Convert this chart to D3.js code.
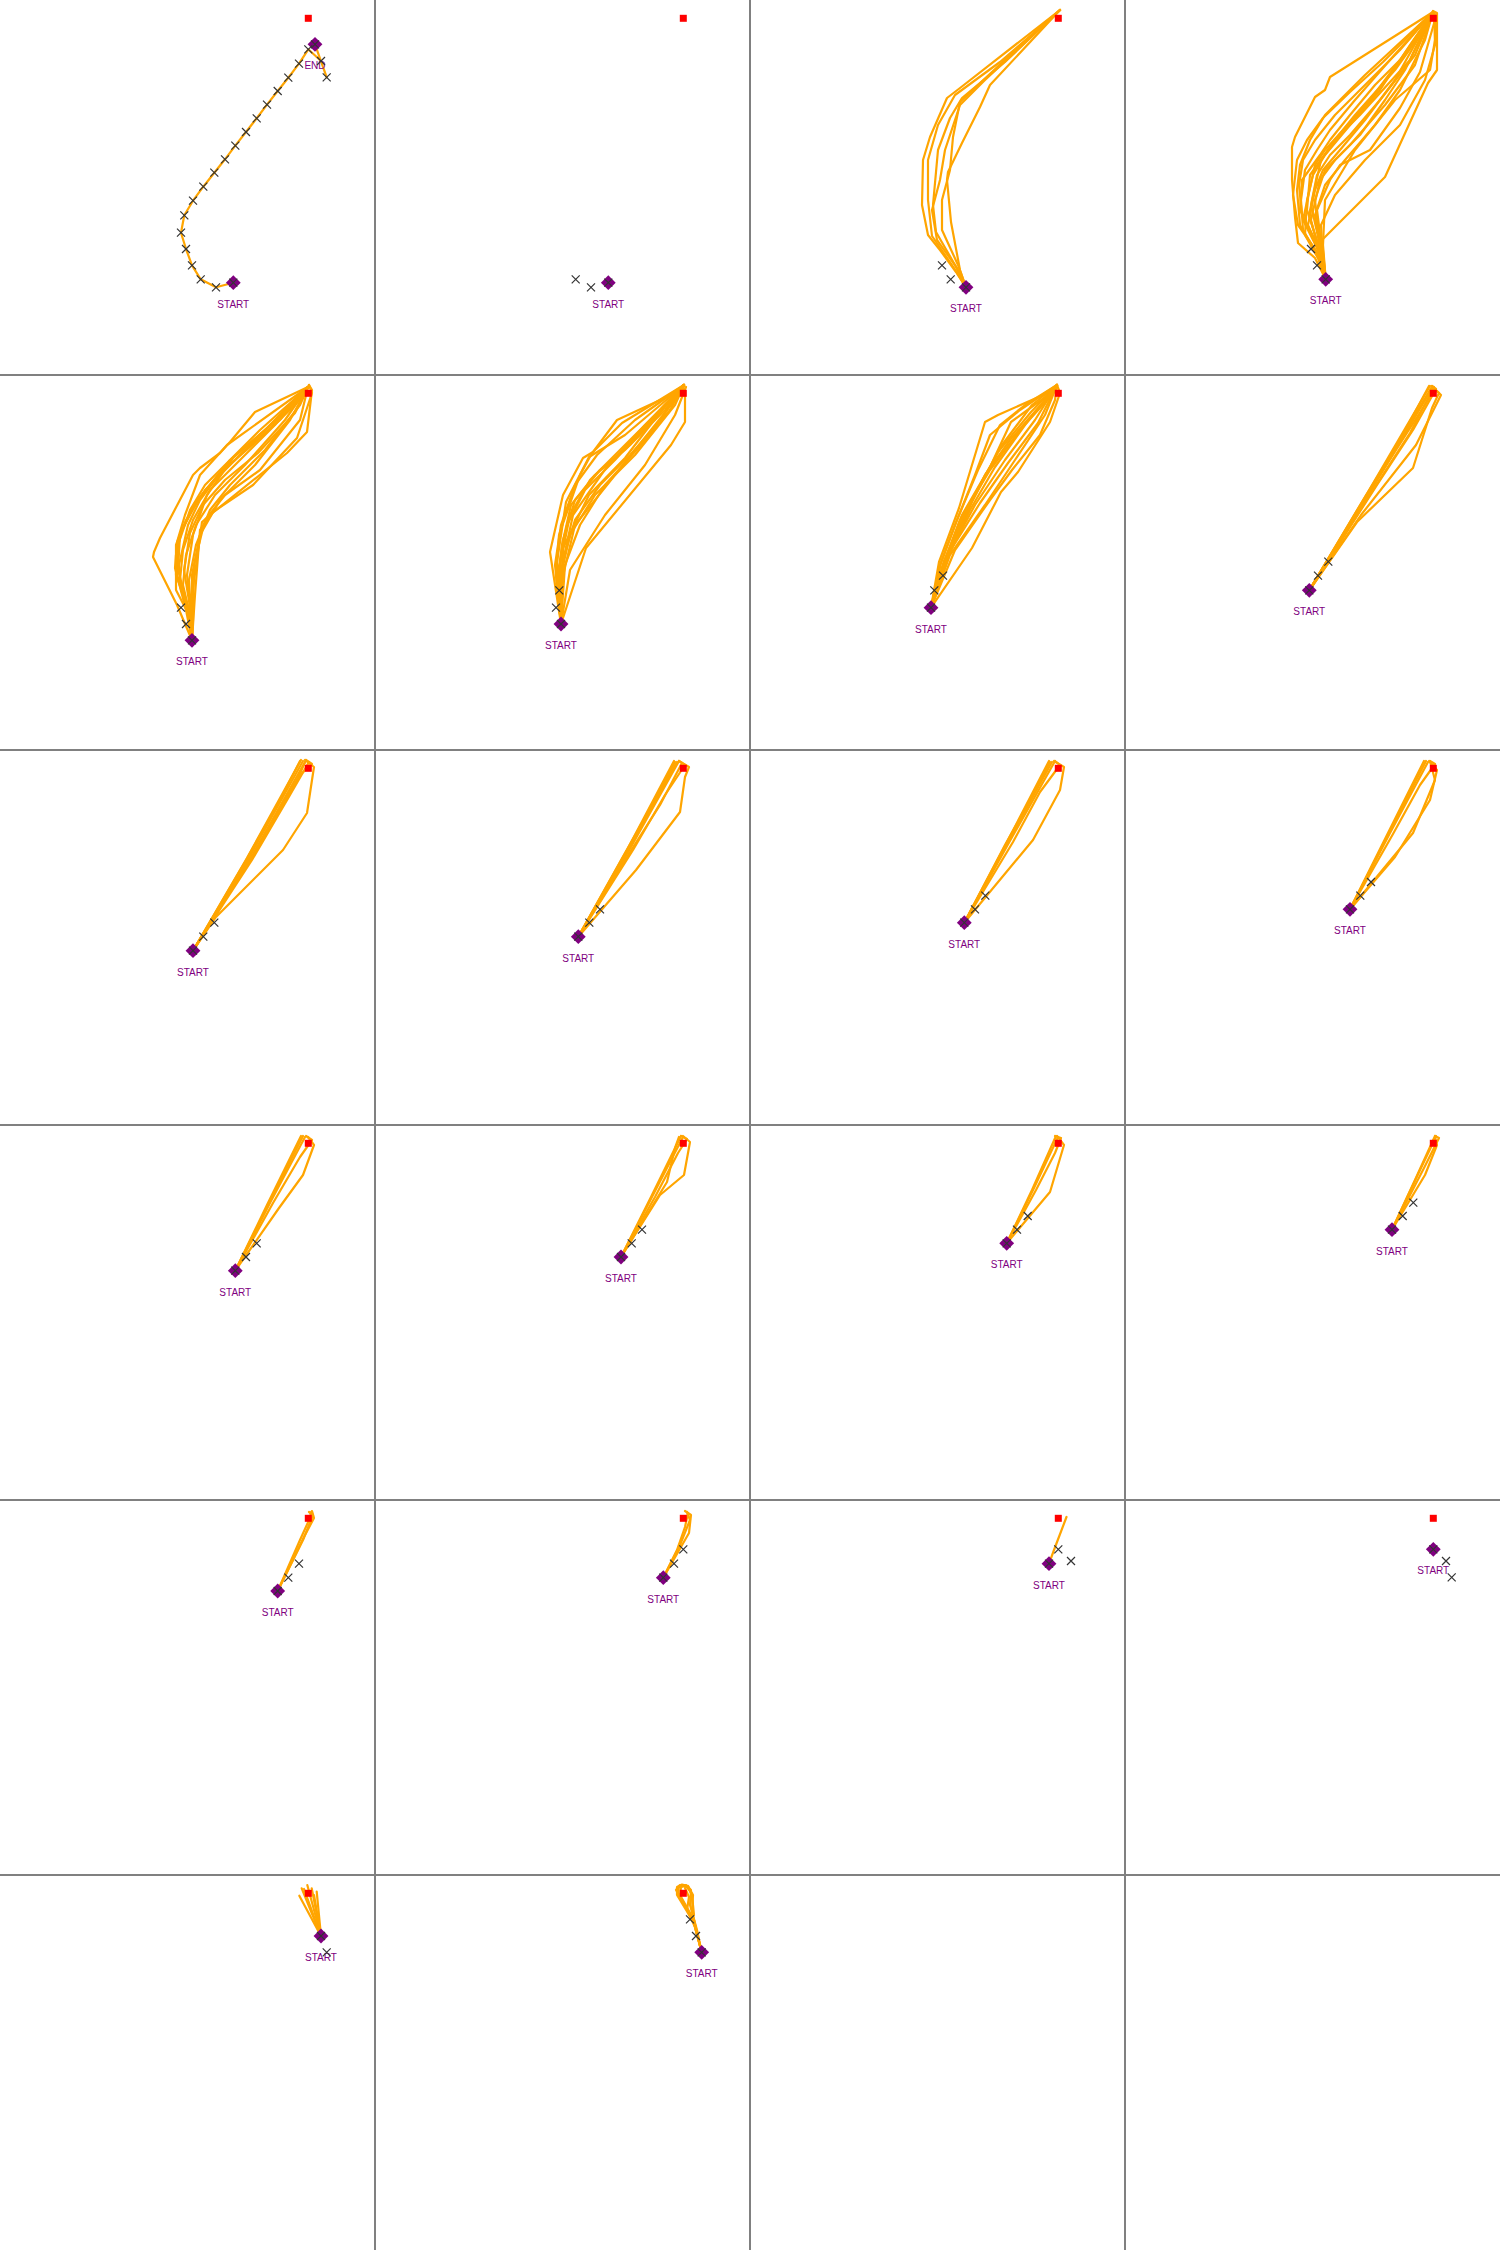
<!DOCTYPE html>
<html><head><meta charset="utf-8">
<script src="https://cdn.jsdelivr.net/npm/d3@7"></script>
<style>body{margin:0;background:#fff}svg{display:block}</style>
</head><body>
<svg id="chart" width="1500" height="2250"></svg>
<script>
// arena coordinates (0..375 each axis, y downward)
const target = [308.3, 18.3];
const trajectory = [
 [233.3,282.7],[216,287.3],[200.7,279.3],[192,265.3],[186,249],[181,232.7],[184.3,215.3],[193,200.7],
 [203.3,186.7],[214.3,172.7],[225,159.3],[235.3,145.7],[246,132],[256.7,118.3],[267,104.7],[277.7,91],
 [288.3,77.7],[299,63.7],[308.3,49.3],[321,61],[326.7,77.3],[315,44.3]
];
const endIndex = 21;
const panelStart = [0,0,1,2,3,4,5,6,7,8,9,10,11,12,13,14,15,16,17,18,19,20];
const panelMarkers = [
 d3.range(0,22),[0,1,2],[1,2,3],[2,3,4],[3,4,5],[4,5,6],[5,6,7],[6,7,8],[7,8,9],[8,9,10],[9,10,11],
 [10,11,12],[11,12,13],[12,13,14],[13,14,15],[14,15,16],[15,16,17],[16,17,18],[17,18,19],[18,19,20],[19,20],[20,21,19]
];

const plans03 = [
 [[206,272],[190,250],[178,235],[172,205],[173,160],[180,137],[197,98],[210,88],[310,10]],
 [[204,268],[182,236],[178,200],[178,160],[188,125],[205,95],[250,62],[310,10]],
 [[205,265],[186,232],[183,205],[188,150],[200,118],[212,98],[255,62],[310,10]],
 [[208,265],[192,230],[192,200],[200,170],[203,137],[210,102],[260,55],[310,10]],
 [[210,270],[201,222],[197,180],[198,172],[212,143],[230,107],[240,85],[310,10]],
 [[207,268],[187,240],[182,210],[190,180],[195,150],[210,105],[235,80],[310,10]]
];
const plans04 = [
 [[190,258],[173,243],[170,217],[167,180],[167,147],[170,137],[190,97],[200,90],[205,77],[308,12]],
 [[192,255],[175,225],[172,190],[175,165],[185,140],[200,115],[215,100],[240,75],[308,12]],
 [[193,255],[178,230],[176,200],[180,170],[192,150],[205,130],[230,100],[265,60],[308,12]],
 [[194,260],[180,235],[182,200],[188,175],[200,155],[225,125],[255,90],[285,45],[308,12]],
 [[195,255],[183,225],[190,190],[198,170],[215,150],[240,120],[270,80],[308,12]],
 [[196,258],[186,220],[195,180],[210,160],[235,135],[260,100],[280,70],[308,12]],
 [[196,255],[190,215],[200,185],[220,160],[250,125],[275,90],[300,40],[308,12]],
 [[197,250],[192,210],[205,180],[215,165],[245,150],[275,108],[295,72],[310,20],[308,12]],
 [[197,245],[196,225],[210,195],[240,160],[275,125],[300,80],[310,45],[310,14]],
 [[197,240],[260,177],[303,83],[312,70],[312,13],[308,11]],
 [[198,245],[200,200],[230,150],[270,100],[305,70],[310,40],[309,12]],
 [[195,250],[182,210],[185,175],[210,140],[230,115],[270,70],[295,35],[308,12]],
 [[194,248],[175,210],[177,180],[195,155],[205,140],[225,115],[250,85],[280,55],[308,12]],
 [[193,250],[178,220],[190,165],[200,150],[245,100],[275,60],[308,12]],
 [[195,252],[184,215],[196,160],[215,135],[235,115],[285,60],[308,12]],
 [[194,250],[177,215],[174,185],[178,160],[190,140],[210,115],[240,85],[275,50],[308,12]],
 [[196,250],[186,205],[192,175],[205,155],[225,135],[255,100],[290,55],[308,12]],
 [[195,245],[190,200],[200,170],[225,145],[260,105],[290,65],[308,12]],
 [[192,252],[173,225],[168,195],[172,160],[182,140],[198,118],[225,92],[258,62],[308,12]]
];
const plans05 = [
 [[177,230],[153,182],[154,177],[160,163],[193,100],[200,93],[220,78],[230,67],[255,37],[308,12]],
 [[193,213],[202,147],[210,140],[287,78],[307,57],[312,15],[309,10]],
 [[195,220],[200,155],[213,137],[253,110],[297,63],[312,18],[309,10]],
 [[186,235],[175,193],[177,167],[185,140],[200,100],[227,70],[308,12]],
 [[188,235],[177,200],[178,170],[190,135],[205,110],[225,90],[260,55],[308,12]],
 [[189,238],[180,205],[183,175],[193,145],[210,115],[240,85],[275,50],[308,12]],
 [[190,240],[183,210],[186,180],[196,150],[215,120],[245,90],[285,45],[308,12]],
 [[191,240],[187,200],[193,160],[207,120],[233,83],[267,53],[308,12]],
 [[191,238],[189,205],[196,170],[210,135],[230,110],[265,75],[300,30],[308,12]],
 [[190,236],[181,215],[179,190],[188,150],[200,125],[215,105],[250,70],[308,12]],
 [[192,240],[192,200],[200,160],[220,125],[255,90],[290,45],[308,12]],
 [[189,240],[176,215],[176,180],[182,155],[198,125],[230,85],[300,25],[308,12]],
 [[193,245],[194,190],[205,145],[225,120],[260,95],[300,45],[308,12]],
 [[188,232],[178,195],[180,160],[195,128],[218,100],[250,72],[290,35],[308,12]],
 [[190,232],[184,195],[190,158],[203,130],[225,105],[258,78],[295,38],[308,12]],
 [[187,230],[176,200],[176,170],[186,145],[205,115],[240,80],[280,45],[308,12]]
];
const plans06 = [
 [[175,177],[188,120],[208,83],[218,77],[242,45],[296,20],[309,10]],
 [[211,173],[296,70],[310,47],[310,18],[308,10]],
 [[185,200],[198,140],[231,93],[270,50],[309,10]],
 [[182,187],[191,127],[214,82],[250,60],[309,10]],
 [[188,173],[214,120],[250,83],[283,40],[309,10]],
 [[180,190],[186,150],[200,110],[222,80],[260,45],[309,10]],
 [[184,195],[192,150],[210,115],[240,85],[290,30],[309,10]],
 [[186,200],[195,160],[220,120],[260,80],[300,30],[309,10]],
 [[190,190],[205,150],[230,110],[275,60],[309,10]],
 [[183,210],[187,170],[196,130],[225,95],[255,70],[309,10]],
 [[187,205],[200,150],[240,100],[300,25],[309,10]],
 [[195,195],[230,140],[270,90],[300,40],[311,12]],
 [[181,200],[184,160],[205,100],[217,78],[247,48],[309,10]],
 [[182,205],[188,165],[200,125],[220,100],[250,75],[290,35],[309,10]],
 [[185,190],[195,140],[215,105],[245,75],[280,40],[309,10]],
 [[188,185],[200,145],[225,110],[255,80],[295,35],[309,10]]
];
const plans07 = [
 [[189,187],[209,133],[222,90],[235,47],[248,40],[300,17],[307,10]],
 [[222,173],[251,117],[268,97],[300,47],[310,18],[307,10]],
 [[196,187],[222,127],[248,77],[281,37],[307,10]],
 [[192,193],[212,140],[241,90],[261,47],[294,23],[307,10]],
 [[190,190],[205,150],[225,100],[240,60],[270,35],[307,10]],
 [[195,185],[215,140],[235,100],[260,65],[295,25],[307,10]],
 [[198,180],[225,130],[255,85],[285,45],[307,10]],
 [[200,180],[235,130],[265,85],[295,40],[307,10]],
 [[193,190],[210,145],[230,110],[252,70],[282,30],[307,10]],
 [[205,175],[240,125],[262,95],[290,60],[305,25],[307,10]],
 [[191,188],[207,145],[228,95],[250,50],[275,30],[307,10]],
 [[194,186],[216,135],[240,95],[270,55],[300,22],[307,10]],
 [[197,183],[220,135],[245,92],[275,50],[307,10]],
 [[199,178],[230,128],[258,88],[288,48],[307,10]]
];
const plans08 = [
 [[265,83],[307,12]],
 [[232,147],[288,93],[307,33],[314,18],[307,12]],
 [[236,140],[291,70],[316,20],[307,11]],
 [[245,115],[307,12]],
 [[243,117],[305,11]],
 [[248,112],[308,12]],
 [[250,108],[310,14]],
 [[240,122],[275,65],[304,11]],
 [[252,110],[288,55],[311,14],[307,11]],
 [[246,118],[285,58],[309,12]]
];
const plans09 = [
 [[216,167],[283,100],[307,63],[312,30],[314,17],[305,10]],
 [[247,108],[301,10]],
 [[250,106],[303,11]],
 [[253,104],[305,12]],
 [[256,100],[298,28],[306,10]],
 [[245,112],[280,50],[300,11]],
 [[252,110],[290,45],[309,12]],
 [[258,98],[300,25],[312,14],[306,10]]
];
const plans10 = [
 [[261,120],[305,62],[310,27],[314,17],[304,11]],
 [[252,100],[299,11]],
 [[254,98],[302,12]],
 [[256,97],[304,11]],
 [[250,103],[280,50],[300,12]],
 [[258,100],[290,45],[310,15],[304,11]],
 [[255,102],[285,55],[307,13]]
];
const plans11 = [
 [[283,90],[310,40],[314,17],[304,11]],
 [[257,92],[299,11]],
 [[259,90],[302,12]],
 [[261,89],[305,11]],
 [[255,95],[283,45],[300,12]],
 [[263,92],[290,42],[310,15],[305,11]]
];
const plans12 = [
 [[270,107],[305,50],[312,20],[304,11]],
 [[288,83],[310,30],[305,11]],
 [[263,85],[301,11]],
 [[265,83],[303,12]],
 [[261,87],[299,11]],
 [[268,84],[295,35],[310,14],[305,11]]
];
const plans13 = [
 [[279,83],[303,50],[314,20],[308,12]],
 [[269,78],[303,11]],
 [[271,76],[305,12]],
 [[267,80],[301,11]],
 [[273,78],[300,32],[312,15],[306,11]]
];
const plans14 = [
 [[292,57],[300,23],[304,12]],
 [[285,70],[309,50],[315,17],[308,11]],
 [[276,72],[306,11]],
 [[278,70],[308,12]],
 [[280,72],[303,28],[312,14],[306,11]]
];
const plans15 = [
 [[300,67],[314,20],[307,11]],
 [[282,65],[306,11]],
 [[284,63],[308,12]],
 [[286,65],[305,28],[311,13],[305,11]]
];
const plans16 = [
 [[299,43],[314,13],[310,11]],
 [[295,45],[308,18],[311,11]],
 [[300,50],[312,20],[310,12]],
 [[290,55],[310,11]]
];
const plans17 = [
 [[304,37],[314,18],[312,11]],
 [[300,40],[310,18],[311,12]],
 [[303,40],[313,15],[309,12]]
];
const plans18 = [
 [[314,33],[316,15],[310,11]],
 [[302,50],[310,27],[313,13]],
 [[305,45],[315,20],[312,12]]
];
const plans19 = [
 [[304,50],[316.5,17]]
];
const plans20 = [];
const plans21 = [
 [[299.3,20.7]],[[301.7,13.3]],[[307.3,10]],[[311.7,13.3]],[[316.7,16.7]],[[304,14]],[[314,20]]
];
const plans22 = [
 [[318,45],[303,18],[304,11],[309,10],[314,14]],
 [[319,45],[305,20],[306,12],[311,11],[316,17]],
 [[320,50],[307,25],[301,15],[305,10],[312,11],[316,18],[318,30]],
 [[322,55],[315,30],[316,15],[311,10],[305,12]],
 [[321,55],[317,35],[318,20],[313,11]],
 [[319,48],[302,20],[302,12],[307,9.5],[313,11],[317,20],[319,40]],
 [[320,52],[312,35],[314,22],[310,13]]
];
const panelPlans = [null, [], plans03, plans04, plans05, plans06, plans07, plans08, plans09, plans10,
 plans11, plans12, plans13, plans14, plans15, plans16, plans17, plans18, plans19, plans20, plans21, plans22];

const W = 1500, H = 2250, cols = 4, rows = 6, cell = W / cols;
const svg = d3.select('#chart');
const x = d3.scaleLinear().domain([0, 375]).range([0, cell]);
const y = d3.scaleLinear().domain([0, 375]).range([0, cell]);
const line = d3.line().x(d => x(d[0])).y(d => y(d[1]));
const diamond = d3.symbol().type(d3.symbolSquare).size(110);
const ORANGE = '#FFA500', PURPLE = '#800080';

panelStart.forEach((si, i) => {
  const col = i % cols, row = Math.floor(i / cols);
  const g = svg.append('g').attr('transform', `translate(${col * cell},${row * cell})`);
  const start = trajectory[si];
  const plans = panelPlans[i];
  if (i === 0) {
    g.append('path').attr('d', line(trajectory)).attr('fill', 'none')
      .attr('stroke', ORANGE).attr('stroke-width', 2.2).attr('stroke-linejoin', 'round');
  } else {
    g.selectAll('path.plan').data(plans).join('path').attr('class', 'plan')
      .attr('d', p => line([start].concat(p))).attr('fill', 'none')
      .attr('stroke', ORANGE).attr('stroke-width', 2.2).attr('stroke-linejoin', 'round').attr('stroke-linecap', 'round');
  }
  // target
  g.append('rect').attr('x', x(target[0]) - 3.5).attr('y', y(target[1]) - 3.5)
    .attr('width', 7).attr('height', 7).attr('fill', '#ff0000');
  // diamonds and labels
  const pins = [{p: start, label: 'START'}];
  if (i === 0) pins.push({p: trajectory[endIndex], label: 'END'});
  pins.forEach(d => {
    g.append('path').attr('d', diamond)
      .attr('transform', `translate(${x(d.p[0])},${y(d.p[1])}) rotate(45)`).attr('fill', PURPLE);
    g.append('text').attr('x', x(d.p[0])).attr('y', y(d.p[1]) + 25).attr('text-anchor', 'middle')
      .attr('font-family', 'Liberation Sans, Arial, sans-serif').attr('font-size', 10)
      .attr('fill', PURPLE).text(d.label);
  });
  // x markers
  panelMarkers[i].forEach(k => {
    const px = x(trajectory[k][0]), py = y(trajectory[k][1]);
    g.append('path').attr('d', `M${px-4},${py-4}L${px+4},${py+4}M${px-4},${py+4}L${px+4},${py-4}`)
      .attr('stroke', '#333').attr('stroke-width', 1.2).attr('fill', 'none');
  });
});

// grid separators
const grid = svg.append('g').attr('stroke', '#808080').attr('stroke-width', 2);
d3.range(1, cols).forEach(c => grid.append('line').attr('x1', c * cell).attr('x2', c * cell).attr('y1', 0).attr('y2', H));
d3.range(1, rows).forEach(r => grid.append('line').attr('y1', r * cell).attr('y2', r * cell).attr('x1', 0).attr('x2', W));
</script>
</body></html>
